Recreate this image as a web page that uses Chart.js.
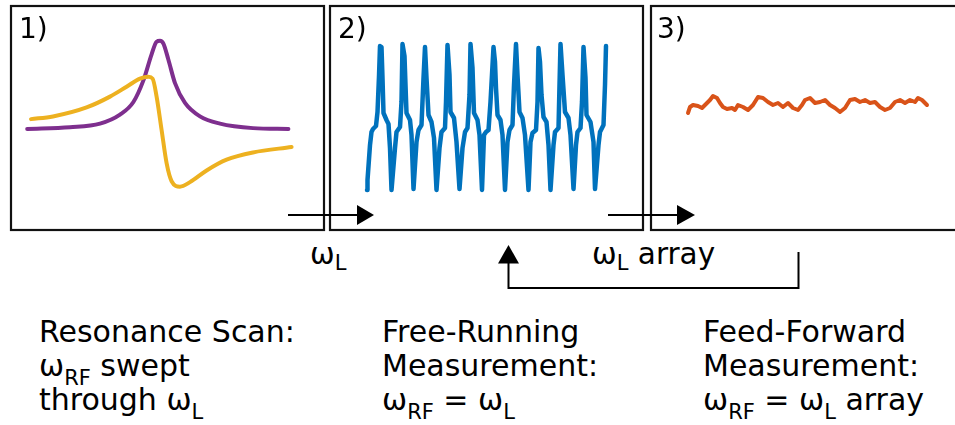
<!DOCTYPE html>
<html>
<head>
<meta charset="utf-8">
<script src="https://cdn.jsdelivr.net/npm/chart.js@4"></script>
<style>
    body { margin: 0; background: #fff; }
    #fig { position: relative; width: 955px; height: 425px; overflow: hidden; font-family: "DejaVu Sans", sans-serif; color: #000; }
    #fig svg, #fig canvas, .lbl { position: absolute; }
    .lbl { font-size: 28px; line-height: 34px; white-space: nowrap; }
    .lbl .s { font-size: 21px; line-height: 0; position: relative; }
    .bottom { font-size: 30px; line-height: 34.2px; }
    .bottom .s { top: 9px; }
    .top { font-size: 29.5px; }
    .top .s { top: 6px; }
</style>
</head>
<body>
<div id="fig">
    <svg width="955" height="425">
        <g fill="none" stroke="#111" stroke-width="2.2">
            <rect x="11" y="6" width="313" height="224"/>
            <rect x="330" y="6" width="313" height="224"/>
            <rect x="651" y="6" width="320" height="224"/>
        </g>
        <g stroke="#000" stroke-width="2" fill="none">
            <line x1="288" y1="215" x2="358" y2="215"/>
            <line x1="608" y1="215" x2="678" y2="215"/>
            <polyline points="798.5,252 798.5,288 508.5,288 508.5,262"/>
        </g>
        <g fill="#000">
            <polygon points="357,205 374,215 357,225"/>
            <polygon points="677,205 695,215 677,225"/>
            <polygon points="498,263.5 508.5,245 519,263.5"/>
        </g>
    </svg>

    <canvas id="scanChart" width="315" height="226" style="left:10px;top:5px"></canvas>
    <canvas id="freeChart" width="315" height="226" style="left:329px;top:5px"></canvas>
    <canvas id="ffChart" width="305" height="226" style="left:650px;top:5px"></canvas>

    <div class="lbl" style="left:19px;top:12px">1)</div>
    <div class="lbl" style="left:338px;top:12px">2)</div>
    <div class="lbl" style="left:657px;top:12px">3)</div>

    <div class="lbl top" style="left:310px;top:237px">ω<span class="s">L</span></div>
    <div class="lbl top" style="left:592px;top:237px">ω<span class="s">L</span> array</div>

    <div class="lbl bottom" style="left:39px;top:314.5px">Resonance Scan:<br>ω<span class="s">RF</span> swept<br>through ω<span class="s">L</span></div>
    <div class="lbl bottom" style="left:382px;top:314.5px">Free-Running<br>Measurement:<br>ω<span class="s">RF</span> = ω<span class="s">L</span></div>
    <div class="lbl bottom" style="left:703px;top:314.5px">Feed-Forward<br>Measurement:<br>ω<span class="s">RF</span> = ω<span class="s">L</span> array</div>
</div>

<script>
// 1) resonance scan: absorption and dispersion vs detuning (linewidths)
const absDetuning = [-6.64, -4.5, -3.0, -2.0, -1.33, -0.83, -0.42, -0.17, 0, 0.17, 0.42, 0.75, 1.25, 2.0, 3.0, 4.65, 6.42];
const absorption = [0.00, 0.02, 0.06, 0.16, 0.30, 0.54, 0.83, 0.97, 0.98, 0.95, 0.77, 0.51, 0.29, 0.14, 0.06, 0.01, 0.00];
const dispDetuning = [-6.45, -5.35, -3.67, -2.5, -1.67, -1.0, -0.58, -0.37, -0.17, 0.08, 0.33, 0.58, 1.0, 1.5, 2.33, 3.33, 4.65, 6.58];
const dispersion = [0.11, 0.14, 0.24, 0.36, 0.47, 0.56, 0.58, 0.56, 0.36, -0.01, -0.38, -0.58, -0.64, -0.59, -0.46, -0.34, -0.26, -0.20];

// 2) free-running signal vs sample
const freeTime = [
    0, 0.5, 3, 4.5, 6, 9, 10.5, 12, 13, 14.5, 15.5, 16.5, 19.5, 21.5, 23, 24.5,
    28, 29.5, 33, 34.5, 35.5, 37.5, 38.5, 39.5, 43, 44.5, 46.5,
    49.5, 51.5, 54.5, 56.5, 58, 59.5, 61.5, 64.5, 67, 69.5,
    72.5, 74.5, 78, 79, 80.5, 82.5, 83.5, 87, 89.5, 92.5,
    95.5, 98, 100.5, 102.5, 103.5, 105.5, 107, 110.5, 112.5, 115,
    117, 119, 121.5, 123.5, 126.5, 128, 129, 130.5, 133.5, 135.5, 138,
    140.5, 142.5, 145.5, 147, 149, 150.5, 152.5, 155.5, 158, 161.5,
    163.5, 165.5, 169, 170.5, 171.5, 173, 174.5, 176.5, 179.5, 181.5, 183.5,
    186.5, 188, 191.5, 192.5, 193.5, 195.5, 198, 201.5, 203.5, 206.5,
    209, 210.5, 213.5, 215, 216.5, 218.5, 219.5, 223.5, 226.5, 228,
    231.5, 233, 236.5, 238, 239,
];
const freeSignal = [
    0.0, 1.0, 4.5, 5.8, 6.1, 6.4, 7.8, 11.4, 14.4, 14.3, 11.2, 7.7, 7.0, 6.6, 4.2, 0.0,
    4.2, 5.8, 6.3, 8.8, 14.6, 13.4, 10.5, 7.7, 7.0, 5.5, 0.1,
    4.8, 6.0, 6.5, 11.2, 14.3, 11.2, 7.5, 6.8, 5.2, 0.0,
    4.2, 5.8, 6.2, 8.8, 14.5, 11.5, 7.8, 7.2, 4.8, 0.1,
    4.2, 5.8, 6.2, 9.5, 14.6, 12.2, 7.7, 7.0, 5.5, 0.0,
    5.5, 5.8, 6.0, 8.8, 14.3, 12.8, 10.2, 7.5, 7.0, 5.5, 0.0,
    4.8, 6.0, 6.5, 10.5, 14.6, 11.5, 7.8, 7.2, 5.5, 0.0,
    4.8, 5.7, 6.0, 8.8, 14.2, 12.8, 9.5, 7.3, 6.8, 4.5, 0.0,
    4.5, 5.8, 6.2, 10.5, 14.6, 11.5, 7.8, 7.2, 5.5, 0.1,
    4.5, 5.8, 6.2, 8.8, 14.3, 11.2, 7.5, 6.8, 4.8, 0.1,
    4.5, 5.8, 6.5, 10.5, 14.4,
];

// 3) feed-forward signal vs sample
const ffTime = [
    0, 2, 5, 10, 14, 19, 22, 25, 29, 32, 35, 39, 44, 47, 50, 55, 60, 65, 70, 75,
    80, 85, 90, 95, 100, 105, 110, 114, 117, 122, 127, 132, 137, 142, 147, 152, 157, 162, 167, 172,
    177, 182, 187, 192, 197, 202, 207, 212, 217, 222, 227, 230, 234, 239,
];
const ffSignal = [
    -0.9, -0.3, -0.1, -0.2, -0.4, 0.1, 0.4, 0.8, 0.6, 0.1, -0.3, -0.5, -0.4, -0.6, -0.1, -0.3, -0.6, -0.1, 0.7, 0.6,
    0.2, -0.1, 0.1, -0.3, 0.1, -0.4, -0.6, -0.1, 0.4, 0.6, 0.1, 0.2, 0.4, -0.1, -0.4, -0.8, -0.4, 0.4, 0.5, 0.2,
    0.4, 0.1, 0.2, -0.3, -0.6, -0.4, 0.2, 0.4, 0.1, 0.4, 0.2, 0.6, 0.4, -0.1,
];

const toPoints = (xs, ys) => xs.map((x, i) => ({ x, y: ys[i] }));

function line(xs, ys, color, width, smooth) {
    return {
        data: toPoints(xs, ys),
        borderColor: color,
        borderWidth: width,
        borderJoinStyle: "round",
        borderCapStyle: "round",
        cubicInterpolationMode: smooth ? "monotone" : "default",
        tension: 0,
        pointRadius: 0,
        fill: false,
    };
}

function drawPanel(id, datasets, xRange, yRange) {
    return new Chart(document.getElementById(id), {
        type: "line",
        data: { datasets },
        options: {
            responsive: false,
            animation: false,
            events: [],
            layout: { padding: 0 },
            plugins: { legend: { display: false }, tooltip: { enabled: false } },
            scales: {
                x: { type: "linear", min: xRange[0], max: xRange[1], display: false },
                y: { min: yRange[0], max: yRange[1], display: false },
            },
        },
    });
}

drawPanel("scanChart", [
    line(dispDetuning, dispersion, "#EDB120", 4, true),
    line(absDetuning, absorption, "#7E2F8E", 4, true),
], [-7.5, 8.25], [-1.133, 1.378]);

drawPanel("freeChart", [line(freeTime, freeSignal, "#0072BD", 4.5, false)], [-38, 277], [-4.1, 18.5]);

drawPanel("ffChart", [line(ffTime, ffSignal, "#D95319", 4, false)], [-38, 267], [-12.7, 9.9]);
</script>
</body>
</html>
